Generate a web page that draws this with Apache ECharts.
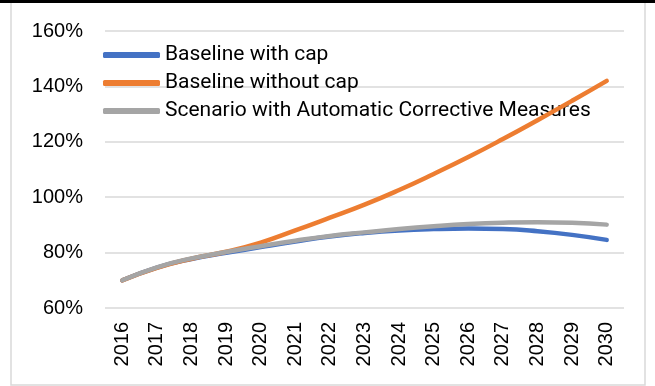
<!DOCTYPE html>
<html>
<head>
<meta charset="utf-8">
<script src="https://cdn.jsdelivr.net/npm/echarts@6/dist/echarts.min.js"></script>
<style>
  html, body { margin: 0; padding: 0; background: #fff; }
  #chart { width: 655px; height: 386px; }
</style>
</head>
<body>
<div id="chart"></div>
<script>
// Debt ratio projections, 2016-2030 (% of GDP)
const years = ['2016', '2017', '2018', '2019', '2020', '2021', '2022', '2023',
               '2024', '2025', '2026', '2027', '2028', '2029', '2030'];
const baselineWithCap = [70, 74.6, 77.7, 79.9, 82, 84, 85.8, 87.1, 88, 88.5, 88.7, 88.5, 87.7, 86.4, 84.6];
const baselineWithoutCap = [70, 74.5, 77.8, 80.3, 83.6, 88, 92.6, 97.3, 102.6, 108.4, 114.5, 121, 127.8, 134.8, 142];
const correctiveScenario = [70, 74.7, 77.9, 80.2, 82.3, 84.3, 86, 87.3, 88.5, 89.5, 90.3, 90.8, 91, 90.8, 90.1];
const yTicks = { min: 60, max: 160, interval: 20 };

const chart = echarts.init(document.getElementById('chart'), null, { renderer: 'canvas' });

const axisFont = { fontFamily: 'Liberation Sans, Arial, sans-serif', fontSize: 20, color: '#000' };

function lineSeries(name, data, color) {
  return {
    name: name,
    type: 'line',
    data: data,
    smooth: true,
    symbol: 'none',
    z: 3,
    lineStyle: { color: color, width: 4.5, cap: 'round', join: 'round' },
    itemStyle: { color: color }
  };
}

chart.setOption({
  animation: false,
  backgroundColor: '#fff',
  graphic: [
    { type: 'rect', shape: { x: 11, y: 0, width: 634, height: 385 },
      style: { fill: 'none', stroke: '#d9d9d9', lineWidth: 1.5 }, z: 0 },
    { type: 'rect', shape: { x: 0, y: 0, width: 655, height: 3 },
      style: { fill: '#000' }, z: 0 }
  ],
  grid: { left: 105, right: 31, top: 31, bottom: 78, containLabel: false },
  legend: {
    orient: 'vertical',
    left: 103,
    top: 44,
    padding: 0,
    z: 2,
    itemWidth: 57,
    itemHeight: 6,
    itemGap: 6,
    icon: 'roundRect',
    textStyle: { fontFamily: 'Roboto, sans-serif', fontSize: 21, color: '#000', lineHeight: 22 },
    data: ['Baseline with cap', 'Baseline without cap', 'Scenario with Automatic Corrective Measures']
  },
  xAxis: {
    type: 'category',
    data: years,
    boundaryGap: true,
    axisLine: { show: false },
    axisTick: { show: false },
    axisLabel: Object.assign({ rotate: 90, margin: 14, interval: 0 }, axisFont)
  },
  yAxis: {
    type: 'value',
    min: yTicks.min,
    max: yTicks.max,
    interval: yTicks.interval,
    axisLine: { show: false },
    axisTick: { show: false },
    splitLine: { lineStyle: { color: '#d9d9d9', width: 1.5 } },
    axisLabel: Object.assign({ margin: 22, formatter: '{value}%' }, axisFont)
  },
  series: [
    lineSeries('Baseline with cap', baselineWithCap, '#4472c4'),
    lineSeries('Baseline without cap', baselineWithoutCap, '#ed7d31'),
    lineSeries('Scenario with Automatic Corrective Measures', correctiveScenario, '#a5a5a5')
  ]
});
</script>
</body>
</html>
